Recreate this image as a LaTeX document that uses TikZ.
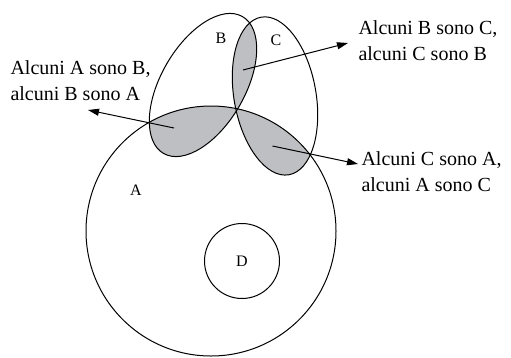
\documentclass[tikz,border=0pt]{standalone}
\usepackage{fontspec}
\setmainfont{Liberation Serif}
\usetikzlibrary{arrows.meta}
\definecolor{lensgray}{HTML}{BEBFC2}

\begin{document}
\begin{tikzpicture}[x=1pt, y=-1pt, line width=1pt,
    setlbl/.style={font=\fontsize{16}{18}\selectfont, inner sep=0pt},
    note/.style={font=\fontsize{20}{26}\selectfont, align=left, inner sep=0pt, anchor=base west},
    arr/.style={-{Triangle[length=11pt, width=7pt]}}]
  \useasboundingbox (0,0) rectangle (511,357);
  % centres of the sets
  \coordinate (cA) at (211,231);
  \coordinate (cB) at (203,85);
  \coordinate (cC) at (275,96);
  \coordinate (cD) at (242,261);
  \tikzset{
    ellB/.style={rotate around={60:(cB)}},
    ellC/.style={rotate around={100:(cC)}}}

  % shaded overlaps
  \begin{scope}
    \clip (cA) circle[radius=125];
    \fill[lensgray, ellB] (cB) ellipse[x radius=79, y radius=42];
    \fill[lensgray, ellC] (cC) ellipse[x radius=80, y radius=41];
  \end{scope}
  \begin{scope}
    \clip[ellB] (cB) ellipse[x radius=79, y radius=42];
    \fill[lensgray, ellC] (cC) ellipse[x radius=80, y radius=41];
  \end{scope}

  % outlines
  \draw (cA) circle[radius=125];
  \draw (cD) circle[radius=37.5];
  \draw[ellB] (cB) ellipse[x radius=79, y radius=42];
  \draw[ellC] (cC) ellipse[x radius=80, y radius=41];

  \node[setlbl] (nA) at (136,190) {A};
  \node[setlbl] (nB) at (221,38) {B};
  \node[setlbl] (nC) at (276,40) {C};
  \node[setlbl] (nD) at (cD) {D};

  % statements (base = last line)
  \node[note] (sAB) at (10,100) {Alcuni A sono B,\\alcuni B sono A};
  \node[note] (sBC) at (358,60) {Alcuni B sono C,\\alcuni C sono B};
  \node[note] (sCA) at (361,191) {Alcuni C sono A,\\alcuni A sono C};

  \coordinate (pAB) at (174,128);
  \coordinate (tAB) at (88,110);
  \coordinate (pBC) at (243,70);
  \coordinate (tBC) at (348,43);
  \coordinate (pCA) at (272.5,146);
  \coordinate (tCA) at (358,164);
  \draw[arr] (pAB) -- (tAB);
  \draw[arr] (pBC) -- (tBC);
  \draw[arr] (pCA) -- (tCA);
\end{tikzpicture}
\end{document}
